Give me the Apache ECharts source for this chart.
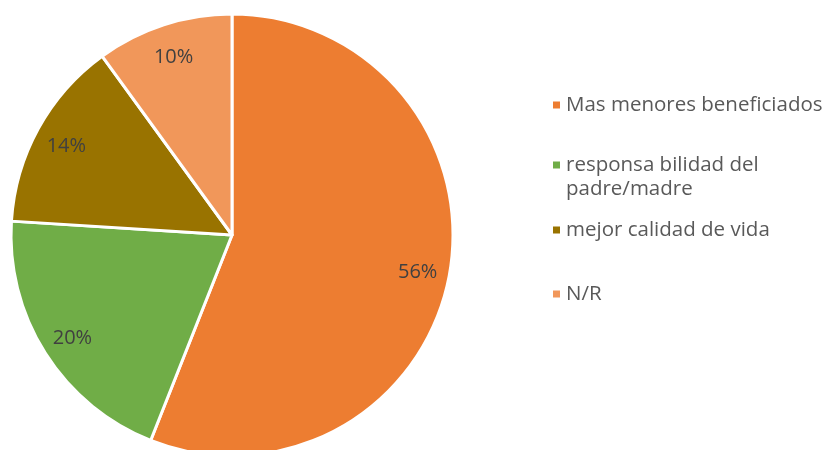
<!DOCTYPE html>
<html>
<head>
<meta charset="utf-8">
<script src="https://cdn.jsdelivr.net/npm/echarts@6/dist/echarts.min.js"></script>
<style>
  html, body { margin: 0; padding: 0; background: #fff; }
  #chart { width: 830px; height: 450px; }
</style>
</head>
<body>
<div id="chart"></div>
<script>
// categories and values (percent)
var categories = [
  "Mas menores beneficiados",
  "responsa bilidad del padre/madre",
  "mejor calidad de vida",
  "N/R"
];
var values = [56, 20, 14, 10];
var colors = ["#ED7D31", "#70AD47", "#997300", "#F1975A"];

var chart = echarts.init(document.getElementById("chart"));

var data = categories.map(function (name, i) {
  return { name: name, value: values[i], itemStyle: { color: colors[i] } };
});

// one legend per item so the spacing follows the picture
var legendTops = [88, 148, 213, 277];
var legends = categories.map(function (name, i) {
  return {
    data: [name],
    orient: "vertical",
    left: 546,
    top: i === 1 ? legendTops[i] - 24 : legendTops[i],
    icon: "rect",
    itemWidth: 9,
    itemHeight: 9,
    selectedMode: false,
    formatter: function (n) {
      if (n === categories[1]) {
        return "\nresponsa bilidad del\npadre/madre";
      }
      return n;
    },
    textStyle: {
      color: "#595959",
      fontFamily: "Open Sans",
      fontSize: 20.5,
      lineHeight: 24
    }
  };
});

chart.setOption({
  backgroundColor: "#fff",
  animation: false,
  legend: legends,
  series: [
    {
      type: "pie",
      center: [232, 235],
      radius: [0, 221],
      startAngle: 90,
      clockwise: true,
      data: data,
      label: { show: false },
      labelLine: { show: false },
      itemStyle: { borderColor: "#fff", borderWidth: 3 },
      emphasis: { disabled: true }
    },
    {
      // transparent ring only used to place the percentage labels
      type: "pie",
      center: [232, 237],
      radius: [151, 221],
      startAngle: 90,
      clockwise: true,
      silent: true,
      legendHoverLink: false,
      data: data.map(function (d) {
        return { name: d.name, value: d.value, itemStyle: { color: "rgba(0,0,0,0)" } };
      }),
      label: {
        show: true,
        position: "inside",
        formatter: "{d}%",
        color: "#404040",
        fontFamily: "Open Sans",
        fontSize: 20
      },
      labelLine: { show: false },
      emphasis: { disabled: true }
    }
  ]
});
</script>
</body>
</html>
